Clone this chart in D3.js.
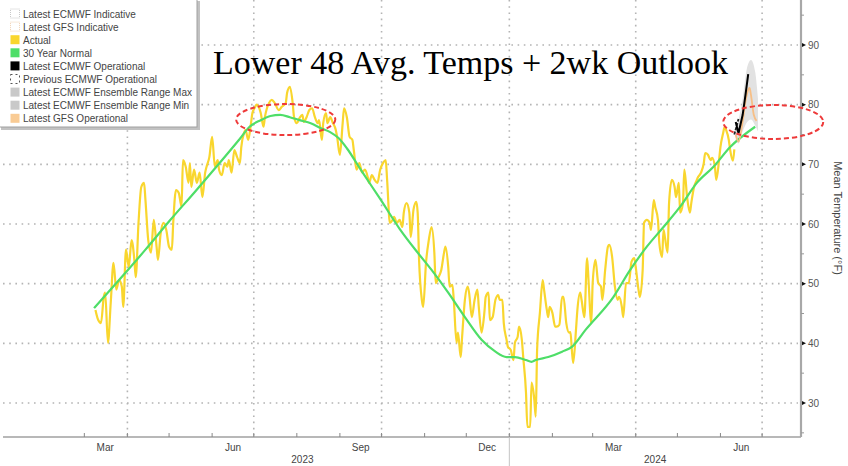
<!DOCTYPE html>
<html><head><meta charset="utf-8">
<script src="https://cdn.jsdelivr.net/npm/d3@7"></script>
<style>html,body{margin:0;padding:0;background:#fff;}svg{display:block;}</style>
</head><body>
<svg id="c" width="848" height="466"></svg>
<script>
// ---------------- DATA ----------------
const actualDates = ["2023-03-09","2023-03-11","2023-03-13","2023-03-15","2023-03-16","2023-03-18","2023-03-20","2023-03-22","2023-03-24","2023-03-26","2023-03-28","2023-03-29","2023-03-31","2023-04-02","2023-04-04","2023-04-06","2023-04-07","2023-04-09","2023-04-11","2023-04-13","2023-04-14","2023-04-16","2023-04-18","2023-04-20","2023-04-22","2023-04-23","2023-04-25","2023-04-27","2023-04-29","2023-05-01","2023-05-03","2023-05-04","2023-05-06","2023-05-08","2023-05-10","2023-05-11","2023-05-13","2023-05-15","2023-05-16","2023-05-17","2023-05-19","2023-05-21","2023-05-23","2023-05-25","2023-05-27","2023-05-28","2023-05-30","2023-06-01","2023-06-03","2023-06-05","2023-06-06","2023-06-08","2023-06-10","2023-06-12","2023-06-13","2023-06-15","2023-06-17","2023-06-19","2023-06-21","2023-06-22","2023-06-24","2023-06-25","2023-06-27","2023-06-29","2023-06-30","2023-07-02","2023-07-03","2023-07-06","2023-07-08","2023-07-09","2023-07-12","2023-07-14","2023-07-16","2023-07-19","2023-07-21","2023-07-24","2023-07-25","2023-07-27","2023-07-29","2023-07-30","2023-08-01","2023-08-03","2023-08-05","2023-08-06","2023-08-08","2023-08-10","2023-08-12","2023-08-14","2023-08-16","2023-08-17","2023-08-19","2023-08-20","2023-08-22","2023-08-23","2023-08-25","2023-08-27","2023-08-29","2023-08-30","2023-09-01","2023-09-03","2023-09-04","2023-09-06","2023-09-08","2023-09-10","2023-09-11","2023-09-13","2023-09-15","2023-09-17","2023-09-19","2023-09-21","2023-09-22","2023-09-24","2023-09-26","2023-09-28","2023-09-30","2023-10-02","2023-10-04","2023-10-05","2023-10-07","2023-10-09","2023-10-10","2023-10-12","2023-10-14","2023-10-16","2023-10-17","2023-10-19","2023-10-21","2023-10-22","2023-10-24","2023-10-26","2023-10-27","2023-10-28","2023-10-30","2023-10-31","2023-11-02","2023-11-04","2023-11-06","2023-11-08","2023-11-09","2023-11-11","2023-11-13","2023-11-15","2023-11-16","2023-11-18","2023-11-19","2023-11-21","2023-11-22","2023-11-24","2023-11-25","2023-11-27","2023-11-28","2023-11-30","2023-12-02","2023-12-03","2023-12-05","2023-12-07","2023-12-09","2023-12-10","2023-12-12","2023-12-14","2023-12-15","2023-12-17","2023-12-18","2023-12-20","2023-12-22","2023-12-24","2023-12-25","2023-12-27","2023-12-28","2023-12-30","2023-12-31","2024-01-02","2024-01-04","2024-01-05","2024-01-07","2024-01-08","2024-01-10","2024-01-11","2024-01-13","2024-01-14","2024-01-16","2024-01-17","2024-01-19","2024-01-20","2024-01-21","2024-01-23","2024-01-25","2024-01-26","2024-01-28","2024-01-29","2024-01-30","2024-02-01","2024-02-03","2024-02-04","2024-02-06","2024-02-08","2024-02-09","2024-02-11","2024-02-13","2024-02-14","2024-02-15","2024-02-16","2024-02-18","2024-02-19","2024-02-21","2024-02-22","2024-02-24","2024-02-26","2024-02-27","2024-02-29","2024-03-01","2024-03-03","2024-03-05","2024-03-07","2024-03-08","2024-03-10","2024-03-12","2024-03-13","2024-03-15","2024-03-17","2024-03-19","2024-03-20","2024-03-22","2024-03-23","2024-03-25","2024-03-27","2024-03-29","2024-03-31","2024-04-01","2024-04-03","2024-04-04","2024-04-06","2024-04-07","2024-04-09","2024-04-11","2024-04-12","2024-04-14","2024-04-15","2024-04-17","2024-04-18","2024-04-20","2024-04-21","2024-04-22","2024-04-24","2024-04-25","2024-04-27","2024-04-29","2024-04-30","2024-05-02","2024-05-03","2024-05-05","2024-05-06","2024-05-08","2024-05-10","2024-05-11","2024-05-13","2024-05-15","2024-05-16","2024-05-18","2024-05-20","2024-05-21","2024-05-23","2024-05-25","2024-05-26","2024-05-28","2024-05-29","2024-05-31","2024-06-01","2024-06-03","2024-06-04","2024-06-05","2024-06-07","2024-06-08","2024-06-10","2024-06-11"];
const actualValues = [45.6,43.9,43.4,47.8,48.5,40.1,46.8,53.5,49.0,50.6,49.5,46.1,55.7,52.8,57.3,54.0,51.1,60.2,66.2,66.9,64.0,57.3,55.2,60.7,56.2,54.0,58.5,60.2,59.0,56.2,55.7,60.2,65.7,65.2,62.9,70.7,69.6,66.9,70.2,66.2,69.1,66.9,68.6,64.5,68.6,69.6,71.2,74.6,69.6,70.7,69.1,68.2,70.2,69.6,70.7,68.6,72.4,71.2,70.2,72.9,75.3,75.8,74.1,76.9,78.6,79.6,80.0,78.6,76.3,77.9,80.3,80.8,80.3,79.1,79.6,80.3,82.0,83.0,80.3,77.9,76.9,77.8,78.3,77.1,77.9,79.1,79.4,77.9,76.9,77.4,74.1,76.9,78.6,76.9,77.9,76.9,75.8,74.6,71.6,76.9,79.4,77.9,74.6,74.1,72.4,69.1,70.2,68.6,69.1,67.9,66.9,68.2,67.4,66.9,69.1,70.2,70.7,67.4,60.2,60.7,61.2,60.2,60.7,59.5,61.9,63.5,61.9,57.8,62.4,63.7,61.9,54.0,47.3,46.1,53.5,57.3,59.5,55.2,50.1,51.1,52.3,55.2,56.2,52.8,49.5,49.8,47.3,40.1,41.8,37.7,41.1,47.3,49.5,48.5,44.4,47.3,49.0,46.1,41.8,45.1,47.8,48.5,43.9,44.4,47.3,48.1,47.3,47.3,43.4,40.6,39.4,38.9,37.2,40.1,41.1,42.8,40.6,37.7,31.7,26.0,26.0,33.4,30.5,27.7,38.9,45.1,50.6,49.0,45.6,44.4,46.1,45.1,42.8,42.8,43.1,47.8,47.8,43.4,41.8,41.9,38.9,36.7,42.3,45.6,48.5,47.3,44.4,54.3,50.6,43.4,50.1,54.0,50.1,49.5,47.3,52.3,56.2,56.5,54.5,49.5,47.3,47.8,46.1,44.4,50.1,50.1,53.7,54.3,52.8,49.0,47.8,52.3,60.2,60.7,60.2,59.0,64.0,62.9,60.7,56.8,54.5,59.0,57.8,55.2,63.5,67.4,66.2,64.5,66.9,61.9,63.5,69.1,64.5,61.9,63.5,66.2,67.4,67.9,68.6,70.2,71.9,71.6,70.7,71.1,69.6,67.4,70.7,72.9,75.3,76.3,75.8,74.1,72.4,70.6,72.5];

const normalDates = ["2023-03-08","2023-03-26","2023-04-14","2023-05-02","2023-05-20","2023-06-07","2023-06-21","2023-06-28","2023-07-06","2023-07-13","2023-07-20","2023-07-27","2023-08-03","2023-08-11","2023-08-18","2023-08-25","2023-08-31","2023-09-06","2023-09-16","2023-09-30","2023-10-14","2023-10-27","2023-11-06","2023-11-18","2023-11-30","2023-12-12","2023-12-22","2023-12-30","2024-01-05","2024-01-13","2024-01-17","2024-01-20","2024-01-29","2024-02-08","2024-02-15","2024-02-25","2024-03-16","2024-03-28","2024-04-09","2024-04-21","2024-05-03","2024-05-15","2024-05-27","2024-06-08","2024-06-26"];
const normalValues = [45.9,50.6,55.7,60.7,65.5,70.4,74.3,76.3,77.4,78.1,78.3,77.9,77.4,76.9,76.1,75.4,74.4,72.7,69.1,64.2,59.2,55.2,52.3,48.5,44.4,40.6,38.6,37.7,37.7,37.2,36.9,37.2,37.7,38.6,39.4,42.3,47.8,52.3,56.2,59.5,62.9,66.9,69.6,72.9,76.3];

const ensembleDates = ["2024-06-12","2024-06-14","2024-06-17","2024-06-20","2024-06-23","2024-06-26","2024-06-28"];
const ensembleMax = [76.0,77.5,81.0,86.0,87.5,85.5,81.0];
const ensembleMin = [74.0,73.5,75.5,77.0,77.5,76.5,75.5];

const ecmwfDates = ["2024-06-12","2024-06-14","2024-06-17","2024-06-19","2024-06-21"];
const ecmwfValues = [77.1,75.2,78.3,81.6,85.1];

const prevEcmwfDates = ["2024-06-11","2024-06-14"];
const prevEcmwfValues = [75.0,77.6];

const gfsDates = ["2024-06-12","2024-06-14","2024-06-17","2024-06-19","2024-06-21","2024-06-22","2024-06-23","2024-06-25","2024-06-27"];
const gfsValues = [74.9,73.8,77.2,80.5,82.5,82.8,81.6,78.3,77.3];

const yTicks = [30,40,50,60,70,80,90];
const monthLabels = ["Mar","Jun","Sep","Dec","Mar","Jun"];
const monthLabelDates = ["2023-03-16","2023-06-16","2023-09-16","2023-12-16","2024-03-16","2024-06-16"];
const yearLabels = ["2023","2024"];

// annotation ellipses: center date, center temp, half-width (days), half-height (°F)
const annoDates = ["2023-07-24","2024-07-09"];
const annoTemps = [77.5,77.1];
const annoHalfDays = [35.7,36];
const annoHalfDeg = [2.6,2.85];

const legendLabels = ["Latest ECMWF Indicative","Latest GFS Indicative","Actual","30 Year Normal","Latest ECMWF Operational","Previous ECMWF Operational","Latest ECMWF Ensemble Range Max","Latest ECMWF Ensemble Range Min","Latest GFS Operational"];

const titleText = "Lower 48 Avg. Temps + 2wk Outlook";
const yAxisTitle = "Mean Temperature (°F)";

// ---------------- CHART ----------------
const parse = d3.timeParse("%Y-%m-%d");
const svg = d3.select("#c");
const x = d3.scaleTime().domain([parse("2023-01-01"), parse("2024-07-29")]).range([2.4, 801]);
const y = d3.scaleLinear().domain([30, 90]).range([403, 45]);
const axisY = 437, axisX = 801;
const C = {yellow:"#f9d62e", green:"#4ede68", gray:"#e2e2e2", orange:"#f7bf86", red:"#ee3a3a"};

const zip = (ds, vs) => ds.map((d,i)=>({date:parse(d), v:vs[i]}));
const actual = zip(actualDates, actualValues);
const normal = zip(normalDates, normalValues);
const ens = ensembleDates.map((d,i)=>({date:parse(d), hi:ensembleMax[i], lo:ensembleMin[i]}));
const ecmwf = zip(ecmwfDates, ecmwfValues);
const prev = zip(prevEcmwfDates, prevEcmwfValues);
const gfs = zip(gfsDates, gfsValues);

// grid
const g = svg.append("g");
g.selectAll(".hg").data(yTicks).enter().append("line")
  .attr("x1",3).attr("x2",axisX-3).attr("y1",d=>y(d)).attr("y2",d=>y(d))
  .attr("stroke","#b4b4b4").attr("stroke-width",1.6).attr("stroke-dasharray","1.6,4.6");
const quarters = d3.timeMonth.every(3).range(parse("2023-03-15"), parse("2024-07-20"));
g.selectAll(".vg").data(quarters).enter().append("line")
  .attr("x1",d=>x(d)).attr("x2",d=>x(d)).attr("y1",0).attr("y2",axisY)
  .attr("stroke","#b4b4b4").attr("stroke-width",1.6).attr("stroke-dasharray","1.6,4.6");

// ensemble band
svg.append("path").datum(ens)
  .attr("d", d3.area().x(d=>x(d.date)).y0(d=>y(d.lo)).y1(d=>y(d.hi)).curve(d3.curveMonotoneX))
  .attr("fill", C.gray);

const line = d3.line().x(d=>x(d.date)).y(d=>y(d.v)).curve(d3.curveMonotoneX);
svg.append("path").datum(actual).attr("d",line).attr("fill","none").attr("stroke",C.yellow).attr("stroke-width",2.2).attr("stroke-linejoin","round");
svg.append("path").datum(normal).attr("d",line).attr("fill","none").attr("stroke",C.green).attr("stroke-width",2.2);
svg.append("path").datum(gfs).attr("d",line).attr("fill","none").attr("stroke",C.orange).attr("stroke-width",1.8);
svg.append("path").datum(prev).attr("d",d3.line().x(d=>x(d.date)).y(d=>y(d.v))).attr("fill","none").attr("stroke","#222").attr("stroke-width",1.8).attr("stroke-dasharray","3,1.5");
svg.append("path").datum(ecmwf).attr("d",d3.line().x(d=>x(d.date)).y(d=>y(d.v))).attr("fill","none").attr("stroke","#000").attr("stroke-width",2);

// axes
svg.append("line").attr("x1",3).attr("x2",axisX).attr("y1",axisY).attr("y2",axisY).attr("stroke","#a0a0a0").attr("stroke-width",1.6);
svg.append("line").attr("x1",axisX).attr("x2",axisX).attr("y1",0).attr("y2",axisY).attr("stroke","#a8a8a8").attr("stroke-width",2.2);
const months = d3.timeMonth.range(parse("2023-03-01"), parse("2024-07-29"));
svg.selectAll(".mt").data(months).enter().append("line")
  .attr("x1",d=>x(d)).attr("x2",d=>x(d)).attr("y1",axisY-4).attr("y2",axisY)
  .attr("stroke","#888").attr("stroke-width",1);
svg.append("line").attr("x1",x(parse("2024-01-01"))).attr("x2",x(parse("2024-01-01"))).attr("y1",axisY).attr("y2",466).attr("stroke","#c4c4c4").attr("stroke-width",1);
svg.selectAll(".ml").data(monthLabels).enter().append("text")
  .attr("x",(d,i)=>x(parse(monthLabelDates[i]))).attr("y",451).attr("text-anchor","middle")
  .attr("font-family","Liberation Sans, Arial, sans-serif").attr("font-size",10).attr("fill","#444").text(d=>d);
const dataStart = actual[0].date, yearSplit = parse("2024-01-01"), dEnd = x.domain()[1];
const yearPos = [(x(dataStart)+x(yearSplit))/2, (x(yearSplit)+x(dEnd))/2];
svg.selectAll(".yl").data(yearLabels).enter().append("text")
  .attr("x",(d,i)=>yearPos[i]).attr("y",463).attr("text-anchor","middle")
  .attr("font-family","Liberation Sans, Arial, sans-serif").attr("font-size",10).attr("fill","#444").text(d=>d);

// y ticks
const minor = d3.range(25, 100, 5).filter(v=>v%10!==0 && y(v)>2 && y(v)<axisY-2);
svg.selectAll(".ymt").data(minor).enter().append("line")
  .attr("x1",axisX).attr("x2",axisX+3).attr("y1",d=>y(d)).attr("y2",d=>y(d)).attr("stroke","#999").attr("stroke-width",1);
svg.selectAll(".yMt").data(yTicks).enter().append("path")
  .attr("d",d=>`M${axisX+1},${y(d)-2}L${axisX+5},${y(d)}L${axisX+1},${y(d)+2}Z`).attr("fill","#111");
svg.selectAll(".ytl").data(yTicks).enter().append("text")
  .attr("x",axisX+7).attr("y",d=>y(d)+3.5)
  .attr("font-family","Liberation Sans, Arial, sans-serif").attr("font-size",10).attr("fill","#555").text(d=>d);
svg.append("text").attr("transform",`translate(834,218) rotate(90)`)
  .attr("text-anchor","middle").attr("font-family","Liberation Sans, Arial, sans-serif").attr("font-size",11).attr("fill","#444").text(yAxisTitle);

// annotation ellipses
const dayMs = 86400000;
annoDates.forEach((d,i)=>{
  const c = parse(d);
  const cx = x(c), cy = y(annoTemps[i]);
  const rx = x(new Date(+c + annoHalfDays[i]*dayMs)) - cx;
  const ry = y(annoTemps[i]-annoHalfDeg[i]) - cy;
  svg.append("ellipse").attr("cx",cx).attr("cy",cy).attr("rx",rx).attr("ry",ry)
    .attr("fill","none").attr("stroke",C.red).attr("stroke-width",2).attr("stroke-dasharray","5,3");
});

// title
svg.append("text").attr("x",213).attr("y",74)
  .attr("font-family","Liberation Serif, Times New Roman, serif").attr("font-size",34).attr("fill","#000").text(titleText);

// legend
const lg = svg.append("g");
lg.append("rect").attr("x",1).attr("y",1).attr("width",199).attr("height",129).attr("fill","#9a9a9a").attr("opacity",0.6);
lg.append("rect").attr("x",-1).attr("y",-1).attr("width",198).attr("height",128).attr("fill","#fff").attr("stroke","#a0a0a0").attr("stroke-width",1);
const sw = [
  {fill:"#fff", stroke:"#c8c8c8", dash:"1,1"},
  {fill:"#fff", stroke:"#f1d2b4", dash:"1,1"},
  {fill:C.yellow},
  {fill:C.green},
  {fill:"#000"},
  {fill:"#fff", stroke:"#555", dash:"2,3"},
  {fill:"#c9c9c9"},
  {fill:"#c9c9c9"},
  {fill:"#f9cb94"}
];
legendLabels.forEach((t,i)=>{
  const cy = 13.5 + i*13.1;
  const s = sw[i];
  lg.append("rect").attr("x",10.5).attr("y",cy-4.5).attr("width",9).attr("height",9)
    .attr("fill",s.fill).attr("stroke",s.stroke||"none").attr("stroke-width",1).attr("stroke-dasharray",s.dash||null);
  lg.append("text").attr("x",23).attr("y",cy+4).attr("font-family","Liberation Sans, Arial, sans-serif")
    .attr("font-size",10).attr("fill","#444").text(t);
});
</script>
</body></html>
